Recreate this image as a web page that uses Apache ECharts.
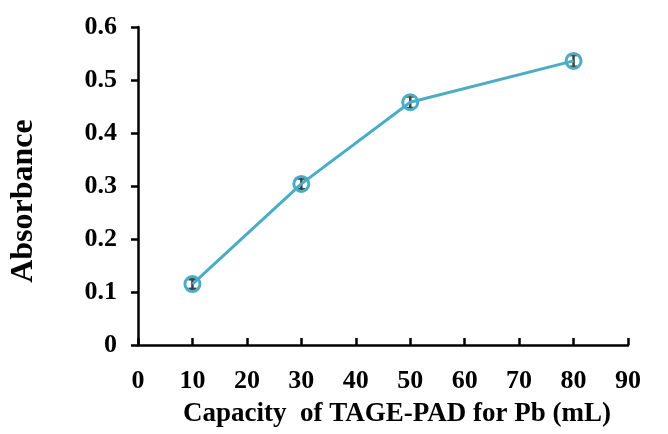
<!DOCTYPE html>
<html>
<head>
<meta charset="UTF-8">
<title>Absorbance vs capacity</title>
<script type="text/javascript" src="https://cdn.jsdelivr.net/npm/echarts@6/dist/echarts.min.js"></script>
<style>body{margin:0;background:#fff;}</style>
</head>
<body>

<div id="box" style="width:668px;height:434px;"></div>

<script type="text/javascript">

// data
var capacity=[10,30,50,80];
var absorbance=[0.115,0.304,0.458,0.536];
var errs=[0.009,0.010,0.011,0.011];

var mychart=echarts.init(document.getElementById('box'));

var font='"Liberation Serif","Times New Roman",serif';

var lineData=[];
var errData=[];
for(var i=0;i<capacity.length;i++){
  lineData.push([capacity[i],absorbance[i]]);
  errData.push([capacity[i],absorbance[i]-errs[i],absorbance[i]+errs[i]]);
}

var option={
  animation:false,
  grid:{left:138,top:27,right:40,bottom:89},
  xAxis:{
    type:'value',min:0,max:90,interval:10,
    name:'Capacity  of TAGE-PAD for Pb (mL)',
    nameLocation:'middle',nameGap:56,
    nameTextStyle:{fontFamily:font,fontWeight:'bold',fontSize:27,color:'#000',padding:[0,0,0,28]},
    axisLine:{lineStyle:{color:'#000',width:2.5}},
    axisTick:{inside:true,length:7,lineStyle:{color:'#000',width:2.5}},
    axisLabel:{fontFamily:font,fontWeight:'bold',fontSize:26,color:'#000',margin:23},
    splitLine:{show:false}
  },
  yAxis:{
    type:'value',min:0,max:0.6,interval:0.1,
    name:'Absorbance',
    nameLocation:'middle',nameGap:98,
    nameTextStyle:{fontFamily:font,fontWeight:'bold',fontSize:32,color:'#000',padding:[0,30,0,0]},
    axisLine:{show:true,lineStyle:{color:'#000',width:2.5}},
    axisTick:{show:true,length:7,lineStyle:{color:'#000',width:2.5}},
    axisLabel:{fontFamily:font,fontWeight:'bold',fontSize:26,color:'#000',margin:21},
    splitLine:{show:false}
  },
  series:[{
    type:'line',
    data:lineData,
    symbol:'circle',symbolSize:15,
    lineStyle:{color:'#4BACC6',width:3},
    itemStyle:{color:'rgba(255,255,255,0)',borderColor:'#4BACC6',borderWidth:3},
    z:3
  },{
    type:'custom',
    data:errData,
    z:2,
    renderItem:function(params,api){
      var lo=api.coord([api.value(0),api.value(1)]);
      var hi=api.coord([api.value(0),api.value(2)]);
      var w=4;
      var st={stroke:'#404040',lineWidth:2.5};
      return {type:'group',children:[
        {type:'line',shape:{x1:lo[0],y1:lo[1],x2:hi[0],y2:hi[1]},style:st},
        {type:'line',shape:{x1:lo[0]-w,y1:lo[1],x2:lo[0]+w,y2:lo[1]},style:st},
        {type:'line',shape:{x1:hi[0]-w,y1:hi[1],x2:hi[0]+w,y2:hi[1]},style:st}
      ]};
    }
  }]
};

mychart.setOption(option);
</script>
</body>
</html>
